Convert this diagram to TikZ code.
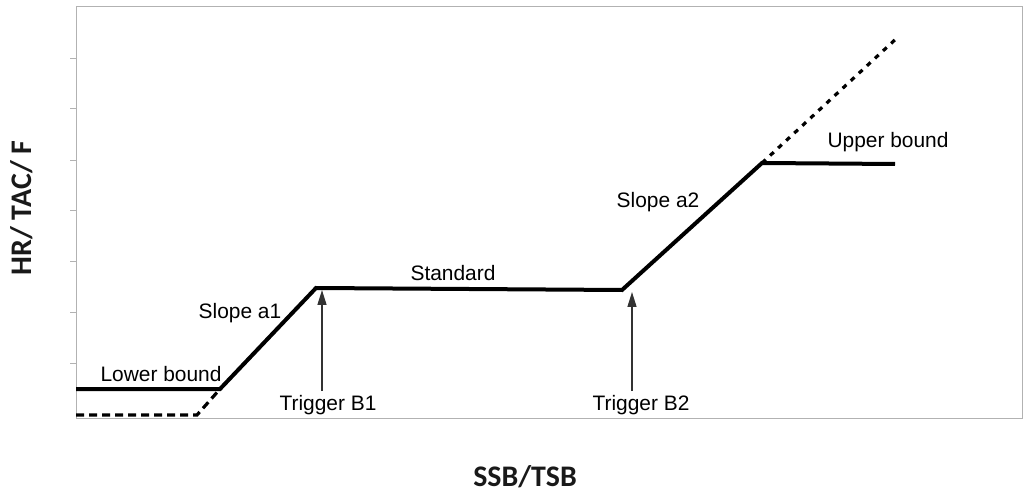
\documentclass[tikz,border=0pt]{standalone}
\usepackage{fontspec}
\setmainfont{Liberation Sans}
\newfontfamily\axisfont{Carlito}
\usetikzlibrary{arrows.meta}
\begin{document}
\begin{tikzpicture}[x=1bp,y=-1bp,
  frameline/.style={draw=black!30,line width=0.8bp},
  curve/.style={line width=4bp,line join=miter},
  ext/.style={line width=3.2bp,dash pattern=on 8bp off 5bp},
  dotext/.style={line width=3.2bp,dash pattern=on 5bp off 6bp},
  trig/.style={draw=black!80,line width=1.5bp,-{Triangle[length=15bp,width=9bp]}},
  lbl/.style={font=\fontsize{21}{24}\selectfont,inner sep=0pt,text=black},
  axlbl/.style={font=\axisfont\bfseries\fontsize{30}{32}\selectfont,inner sep=0pt,text=black!90}]
\useasboundingbox (0,0) rectangle (1024,493);
% frame
\draw[frameline] (76,418) -- (76,6) -- (1022,6) -- (1022,418) -- cycle;
\foreach \yy in {58,108,160,210,261,312,363}
  \draw[draw=black!30,line width=0.8bp] (70,\yy) -- (76,\yy);
% key points
\coordinate (lbA) at (76,389);
\coordinate (lbB) at (220,389);
\coordinate (s1) at (316,288);
\coordinate (s2) at (622,290);
\coordinate (ubA) at (762,163);
\coordinate (ubB) at (895,164);
\coordinate (dotEnd) at (898,37);
\coordinate (dashA) at (76,415);
\coordinate (dashB) at (197,415);
% extensions
\draw[ext] (dashA) -- (dashB) -- (lbB);
\draw[dotext] (ubA) -- (dotEnd);
% main curve
\draw[curve] (lbA) -- (lbB) -- (s1) -- (s2) -- (ubA) -- (ubB);
% triggers
\coordinate (t1base) at (322,391);
\coordinate (t1top) at (322,290);
\coordinate (t2base) at (632,391);
\coordinate (t2top) at (632,292);
\draw[trig] (t1base) -- (t1top);
\draw[trig] (t2base) -- (t2top);
% labels
\node[lbl] (lLower) at (161,374) {Lower bound};
\node[lbl] (lSlope1) at (240,313) {Slope a1};
\node[lbl] (lT1) at (328,405) {Trigger B1};
\node[lbl] (lStd) at (453,273) {Standard};
\node[lbl] (lT2) at (641,405) {Trigger B2};
\node[lbl] (lSlope2) at (658,202) {Slope a2};
\node[lbl] (lUpper) at (888,142) {Upper bound};
\node[axlbl] (xlab) at (525,477) {SSB/TSB};
\node[axlbl,rotate=90] (ylab) at (22,208) {HR/ TAC/ F};
\end{tikzpicture}
\end{document}
